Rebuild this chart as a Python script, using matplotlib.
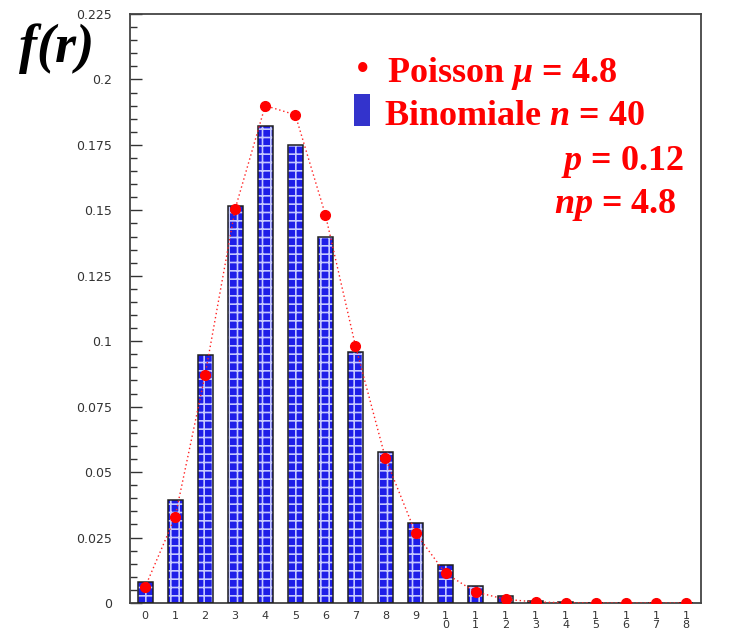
import matplotlib
matplotlib.use("Agg")
import matplotlib.pyplot as plt
from matplotlib.ticker import MultipleLocator, FixedLocator

# Data
r_values = list(range(19))
binomial_bars = [0.0082, 0.0395, 0.0948, 0.1517, 0.1821, 0.1748, 0.1398, 0.0959,
                 0.0575, 0.0307, 0.0147, 0.0064, 0.0026, 0.00095, 0.00033,
                 0.0001, 0.00003, 0.00001, 0.0]
poisson_points = [0.0060, 0.0328, 0.0872, 0.1506, 0.1900, 0.1865, 0.1484, 0.0983,
                  0.0553, 0.0268, 0.0113, 0.0042, 0.0014, 0.0004, 0.0001,
                  0.00003, 0.0, 0.0, 0.0]
x_tick_labels = [str(i) for i in range(10)] + ["1\n" + str(i) for i in range(9)]
y_ticks = [0, 0.025, 0.05, 0.075, 0.1, 0.125, 0.15, 0.175, 0.2, 0.225]
y_tick_labels = ["0", "0.025", "0.05", "0.075", "0.1", "0.125", "0.15", "0.175", "0.2", "0.225"]

plt.rcParams['mathtext.fontset'] = 'custom'
plt.rcParams['mathtext.rm'] = 'Liberation Serif:bold'
plt.rcParams['mathtext.it'] = 'Liberation Serif:italic:bold'
plt.rcParams['mathtext.bf'] = 'Liberation Serif:bold'
plt.rcParams['hatch.linewidth'] = 1.2

fig = plt.figure(figsize=(7.52, 6.34), dpi=100)
ax = fig.add_axes([130/752, 1-603/634, (701-130)/752, (603-14)/634])

# bars: patterned fill then black outline
ax.bar(r_values, binomial_bars, width=0.5, color='#1e1ee8', edgecolor='#c4c8ff',
       hatch='++', linewidth=0, zorder=2)
ax.bar(r_values, binomial_bars, width=0.5, fill=False, edgecolor='#202020',
       linewidth=1.1, zorder=3)

ax.plot(r_values, poisson_points, linestyle=(0, (1, 2)), color='#ff2020',
        linewidth=1.0, zorder=4)
ax.plot(r_values, poisson_points, linestyle='none', marker='o', markersize=7,
        color='#ff0000', zorder=5)

ax.set_xlim(-0.5, 18.5)
ax.set_ylim(0, 0.225)
ax.xaxis.set_major_locator(FixedLocator(r_values))
ax.set_xticklabels(x_tick_labels, fontsize=8, color='#333333', linespacing=0.78,
                   family='DejaVu Sans', va='top')
ax.tick_params(axis='x', length=0, pad=6)
ax.yaxis.set_major_locator(FixedLocator(y_ticks))
ax.set_yticklabels(y_tick_labels, fontsize=9, color='#333333', family='DejaVu Sans')
ax.yaxis.set_minor_locator(MultipleLocator(0.005))
ax.tick_params(axis='y', which='major', direction='in', length=8.6, width=1.0,
               color='#333333', pad=13)
ax.tick_params(axis='y', which='minor', direction='in', length=4.8, width=1.0,
               color='#333333')
for s in ax.spines.values():
    s.set_color('#444444')
    s.set_linewidth(1.3)

# Y label
fig.text(19/752, 1-62/634, 'f(r)', fontsize=39, fontweight='bold', style='italic',
         family='Liberation Serif', ha='left', va='baseline')

# Legend texts
red = '#ff0000'
fs = 26
fig.text(363/752, 1-72/634, '\u2022', fontsize=28, color=red, ha='center',
         va='center', family='Liberation Serif')
fig.text(387/752, 1-82/634, r'Poisson $\mu$ = 4.8', fontsize=fs, color=red,
         family='Liberation Serif', fontweight='bold', ha='left', va='baseline')
fig.patches.append(plt.Rectangle((354/752, 1-126/634), 16/752, 32/634,
                                 transform=fig.transFigure, facecolor='#3333cc',
                                 edgecolor='none'))
fig.text(384/752, 1-125/634, r'Binomiale $n$ = 40', fontsize=fs, color=red,
         family='Liberation Serif', fontweight='bold', ha='left', va='baseline')
fig.text(684/752, 1-170/634, r'$p$ = 0.12', fontsize=fs, color=red,
         family='Liberation Serif', fontweight='bold', ha='right', va='baseline')
fig.text(677/752, 1-213/634, r'$np$ = 4.8', fontsize=fs, color=red,
         family='Liberation Serif', fontweight='bold', ha='right', va='baseline')

fig.savefig('out.png', dpi=100)
